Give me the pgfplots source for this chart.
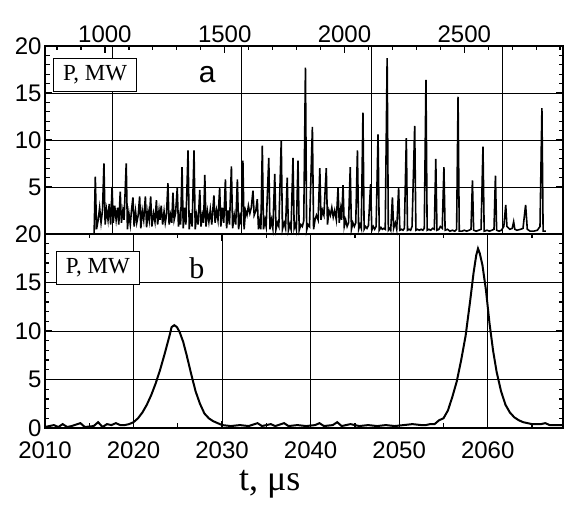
\documentclass[border=0pt]{standalone}
\usepackage{fontspec}
\setmainfont{Liberation Sans}
\newfontfamily\serif{Liberation Serif}
\usepackage{pgfplots}
\pgfplotsset{compat=1.18}

% top panel: pulse train, P (MW) vs t (us)
\pgfplotstableread{
t p
955 0
960 6.1
965 0.5
972 1.5
978 2.8
984 1.2
990 2.5
996 7.5
1001 1.0
1007 2.6
1013 1.5
1018 3.2
1024 1.0
1030 5.0
1035 1.2
1041 3.0
1047 1.5
1053 2.8
1058 1.0
1064 4.5
1069 1.2
1075 2.5
1080 1.5
1089 7.5
1094 0.5
1100 2.2
1106 1.0
1111 2.5
1117 3.9
1122 0.8
1128 2.4
1133 1.2
1139 2.0
1145 4.0
1150 0.6
1156 2.5
1162 1.5
1169 4.0
1174 0.7
1180 2.4
1185 1.5
1191 4.0
1196 0.8
1203 2.2
1209 1.3
1215 3.6
1220 1.0
1226 2.5
1230 1.5
1235 3.0
1241 1.0
1247 2.4
1252 1.2
1257 2.0
1263 5.4
1268 1.0
1274 2.0
1279 1.2
1284 4.4
1289 1.5
1295 2.2
1302 4.9
1307 0.8
1313 2.0
1316 1.0
1322 7.1
1327 0.6
1333 2.8
1338 1.0
1347 8.9
1352 0.5
1358 2.2
1364 0.8
1372 8.9
1377 0.5
1383 2.0
1389 1.0
1396 4.7
1401 0.8
1407 2.0
1412 1.2
1417 6.3
1422 0.8
1428 2.4
1434 1.3
1440 2.6
1446 1.0
1455 4.1
1460 1.2
1466 2.5
1472 1.5
1479 4.9
1484 0.8
1490 2.8
1496 1.2
1503 5.8
1508 0.6
1514 2.5
1520 1.0
1528 7.2
1533 0.6
1540 2.0
1546 1.0
1553 5.8
1558 0.5
1564 1.8
1569 1.0
1576 7.8
1581 0.5
1587 2.5
1593 2.0
1599 3.0
1605 2.2
1611 2.8
1618 4.6
1623 2.0
1630 2.5
1636 3.7
1641 0.5
1647 1.5
1651 0.5
1657 9.4
1662 0.5
1668 1.5
1673 0.8
1684 8.1
1689 0.5
1695 1.5
1701 0.6
1709 6.4
1714 0.5
1720 1.2
1726 0.8
1736 9.9
1741 0.5
1748 1.2
1754 0.6
1761 6.0
1766 0.4
1772 1.0
1777 0.5
1785 8.1
1790 0.6
1795 1.0
1799 0.5
1806 7.8
1811 0.4
1818 1.0
1824 0.8
1830 1.4
1837 17.7
1842 0.4
1848 1.0
1854 0.8
1866 11.4
1871 0.5
1877 1.5
1883 2.0
1890 1.5
1897 7.0
1902 1.5
1908 2.5
1914 2.0
1924 7.0
1929 1.0
1935 2.5
1941 2.0
1947 2.8
1953 1.8
1959 2.5
1966 1.5
1973 4.9
1978 1.2
1984 2.6
1988 1.5
1994 5.2
1999 0.8
2005 1.5
2011 0.8
2017 1.2
2024 7.1
2029 0.5
2035 1.2
2041 0.8
2047 1.2
2054 8.9
2059 0.5
2065 1.0
2070 0.6
2077 12.9
2082 0.5
2088 0.8
2094 0.6
2100 0.9
2109 5.3
2114 0.4
2120 0.8
2126 0.5
2132 0.8
2140 10.6
2145 0.4
2152 0.7
2158 0.5
2164 0.6
2170 0.5
2178 18.7
2183 0.4
2189 0.6
2193 0.4
2200 3.9
2205 0.6
2212 1.2
2218 0.5
2226 4.9
2231 0.4
2238 0.5
2244 0.4
2250 0.6
2258 10.2
2263 0.4
2270 0.5
2276 0.4
2282 0.8
2293 11.5
2298 0.4
2305 0.5
2312 0.4
2320 0.5
2327 0.4
2333 0.6
2340 16.4
2345 0.4
2352 0.5
2360 0.4
2368 0.6
2375 0.5
2381 8.0
2386 0.4
2394 0.5
2400 0.8
2408 0.6
2415 7.1
2420 0.4
2430 0.5
2440 0.3
2450 0.4
2460 0.3
2468 0.5
2474 14.6
2479 0.3
2490 0.3
2500 0.4
2510 0.3
2520 0.4
2528 0.5
2534 5.7
2539 0.4
2550 0.3
2560 0.4
2570 0.5
2578 9.3
2583 0.3
2595 0.4
2605 0.3
2615 0.4
2624 0.5
2630 6.2
2635 0.4
2645 0.3
2655 0.4
2665 0.8
2673 3.1
2678 0.8
2690 0.5
2700 0.6
2706 1.3
2711 0.5
2720 0.4
2735 0.5
2745 0.6
2756 3.1
2763 0.5
2775 0.3
2790 0.3
2805 0.4
2816 0.8
2824 13.4
2829 0.3
2840 0.3
}\trainA

% bottom panel: two single pulses
\pgfplotstableread{
t p
2010.0 0.1
2011.0 0.3
2011.5 0.1
2012.0 0.4
2012.5 0.1
2013.0 0.2
2014.0 0.5
2014.5 0.1
2015.5 0.2
2016.0 0.6
2016.5 0.1
2017.0 0.4
2017.5 0.3
2018.0 0.5
2018.5 0.3
2019.0 0.3
2019.5 0.4
2020.0 0.6
2020.5 1.0
2021.0 1.6
2021.5 2.4
2022.0 3.4
2022.5 4.6
2023.0 6.0
2023.5 7.6
2024.0 9.3
2024.3 10.4
2024.6 10.6
2024.9 10.4
2025.2 9.9
2025.6 8.9
2026.0 7.5
2026.5 5.6
2027.0 3.8
2027.5 2.5
2028.0 1.5
2028.5 1.0
2029.0 0.7
2029.5 0.5
2030.0 0.3
2031.0 0.2
2032.0 0.3
2033.0 0.2
2034.0 0.5
2034.5 0.2
2035.5 0.4
2036.0 0.2
2037.0 0.5
2037.5 0.2
2038.5 0.3
2039.5 0.2
2040.5 0.3
2041.0 0.5
2041.5 0.2
2042.5 0.3
2043.0 0.6
2043.5 0.2
2044.5 0.4
2045.5 0.2
2046.5 0.3
2047.5 0.2
2048.5 0.3
2049.5 0.2
2050.5 0.3
2051.5 0.4
2052.5 0.3
2053.0 0.3
2053.5 0.4
2054.0 0.4
2054.5 0.8
2055.0 1.0
2055.5 1.8
2056.0 3.2
2056.5 4.8
2057.0 7.0
2057.5 9.5
2058.0 13.0
2058.4 16.0
2058.7 17.8
2058.9 18.5
2059.1 18.0
2059.4 16.8
2059.8 14.2
2060.2 10.8
2060.6 8.0
2061.0 5.8
2061.5 3.8
2062.0 2.4
2062.5 1.6
2063.0 1.1
2063.5 0.8
2064.0 0.6
2064.5 0.5
2065.0 0.4
2066.0 0.4
2066.5 0.5
2067.0 0.3
2068.5 0.3
}\trainB

\pgfplotsset{
  panel/.style={
    scale only axis, width=518pt, clip=false,
    axis line style={line width=1.6pt},
    every tick/.style={black, line width=1.3pt},
    major tick length=7pt, minor tick length=4.5pt,
    ymin=0, ymax=20, minor y tick num=4,
    ytick pos=both, yticklabel pos=left,
    ymajorgrids,
    grid style={black, line width=0.9pt},
    tick label style={font=\fontsize{24}{28}\selectfont},
    /pgf/number format/assume math mode=true,
    /pgf/number format/1000 sep={},
  },
}
\tikzset{
  boxlabel/.style={draw, line width=1.1pt, fill=white, anchor=north west,
    minimum width=83pt, minimum height=33pt, inner sep=2pt,
    font=\serif\fontsize{23}{26}\selectfont},
}

\begin{document}
\begin{tikzpicture}
\begin{axis}[panel, at={(0,0)}, anchor=south west, height=188pt,
  xmin=750, xmax=2912,
  xtick={1000,1500,2000,2500},
  minor xtick={800,900,...,2900},
  xtick pos=right, xticklabel pos=right,
  ytick={5,10,15,20},
  extra x ticks={1030,1572,2111,2658},
  extra x tick labels={},
  extra x tick style={grid=major, major tick length=0pt},
]
\addplot[black, line width=1.6pt] table {\trainA};
\node[boxlabel] at (rel axis cs:0.0154,0.936) {P, MW};
\node[font=\fontsize{30}{34}\selectfont] at (rel axis cs:0.313,0.846) {a};
\end{axis}

\begin{axis}[panel, at={(0,0)}, anchor=north west, height=194pt,
  xmin=2010, xmax=2068.5,
  xtick={2010,2020,...,2060},
  minor xtick={2015,2025,...,2065},
  xtick pos=both, xticklabel pos=left,
  xticklabel style={yshift=-10pt},
  xmajorgrids,
  ytick={0,5,...,20},
  xlabel={\serif t, μs},
  xlabel style={font=\fontsize{36}{40}\selectfont,
    at={(axis description cs:0.434,-0.289)}, anchor=center},
]
\addplot[black, line width=2pt] table {\trainB};
\node[boxlabel] at (rel axis cs:0.021,0.912) {P, MW};
\node[font=\serif\fontsize{30}{34}\selectfont] at (rel axis cs:0.293,0.825) {b};
\end{axis}

\pgfresetboundingbox
\path[use as bounding box] (-45pt,-274pt) rectangle (520pt,234pt);
\end{tikzpicture}
\end{document}
